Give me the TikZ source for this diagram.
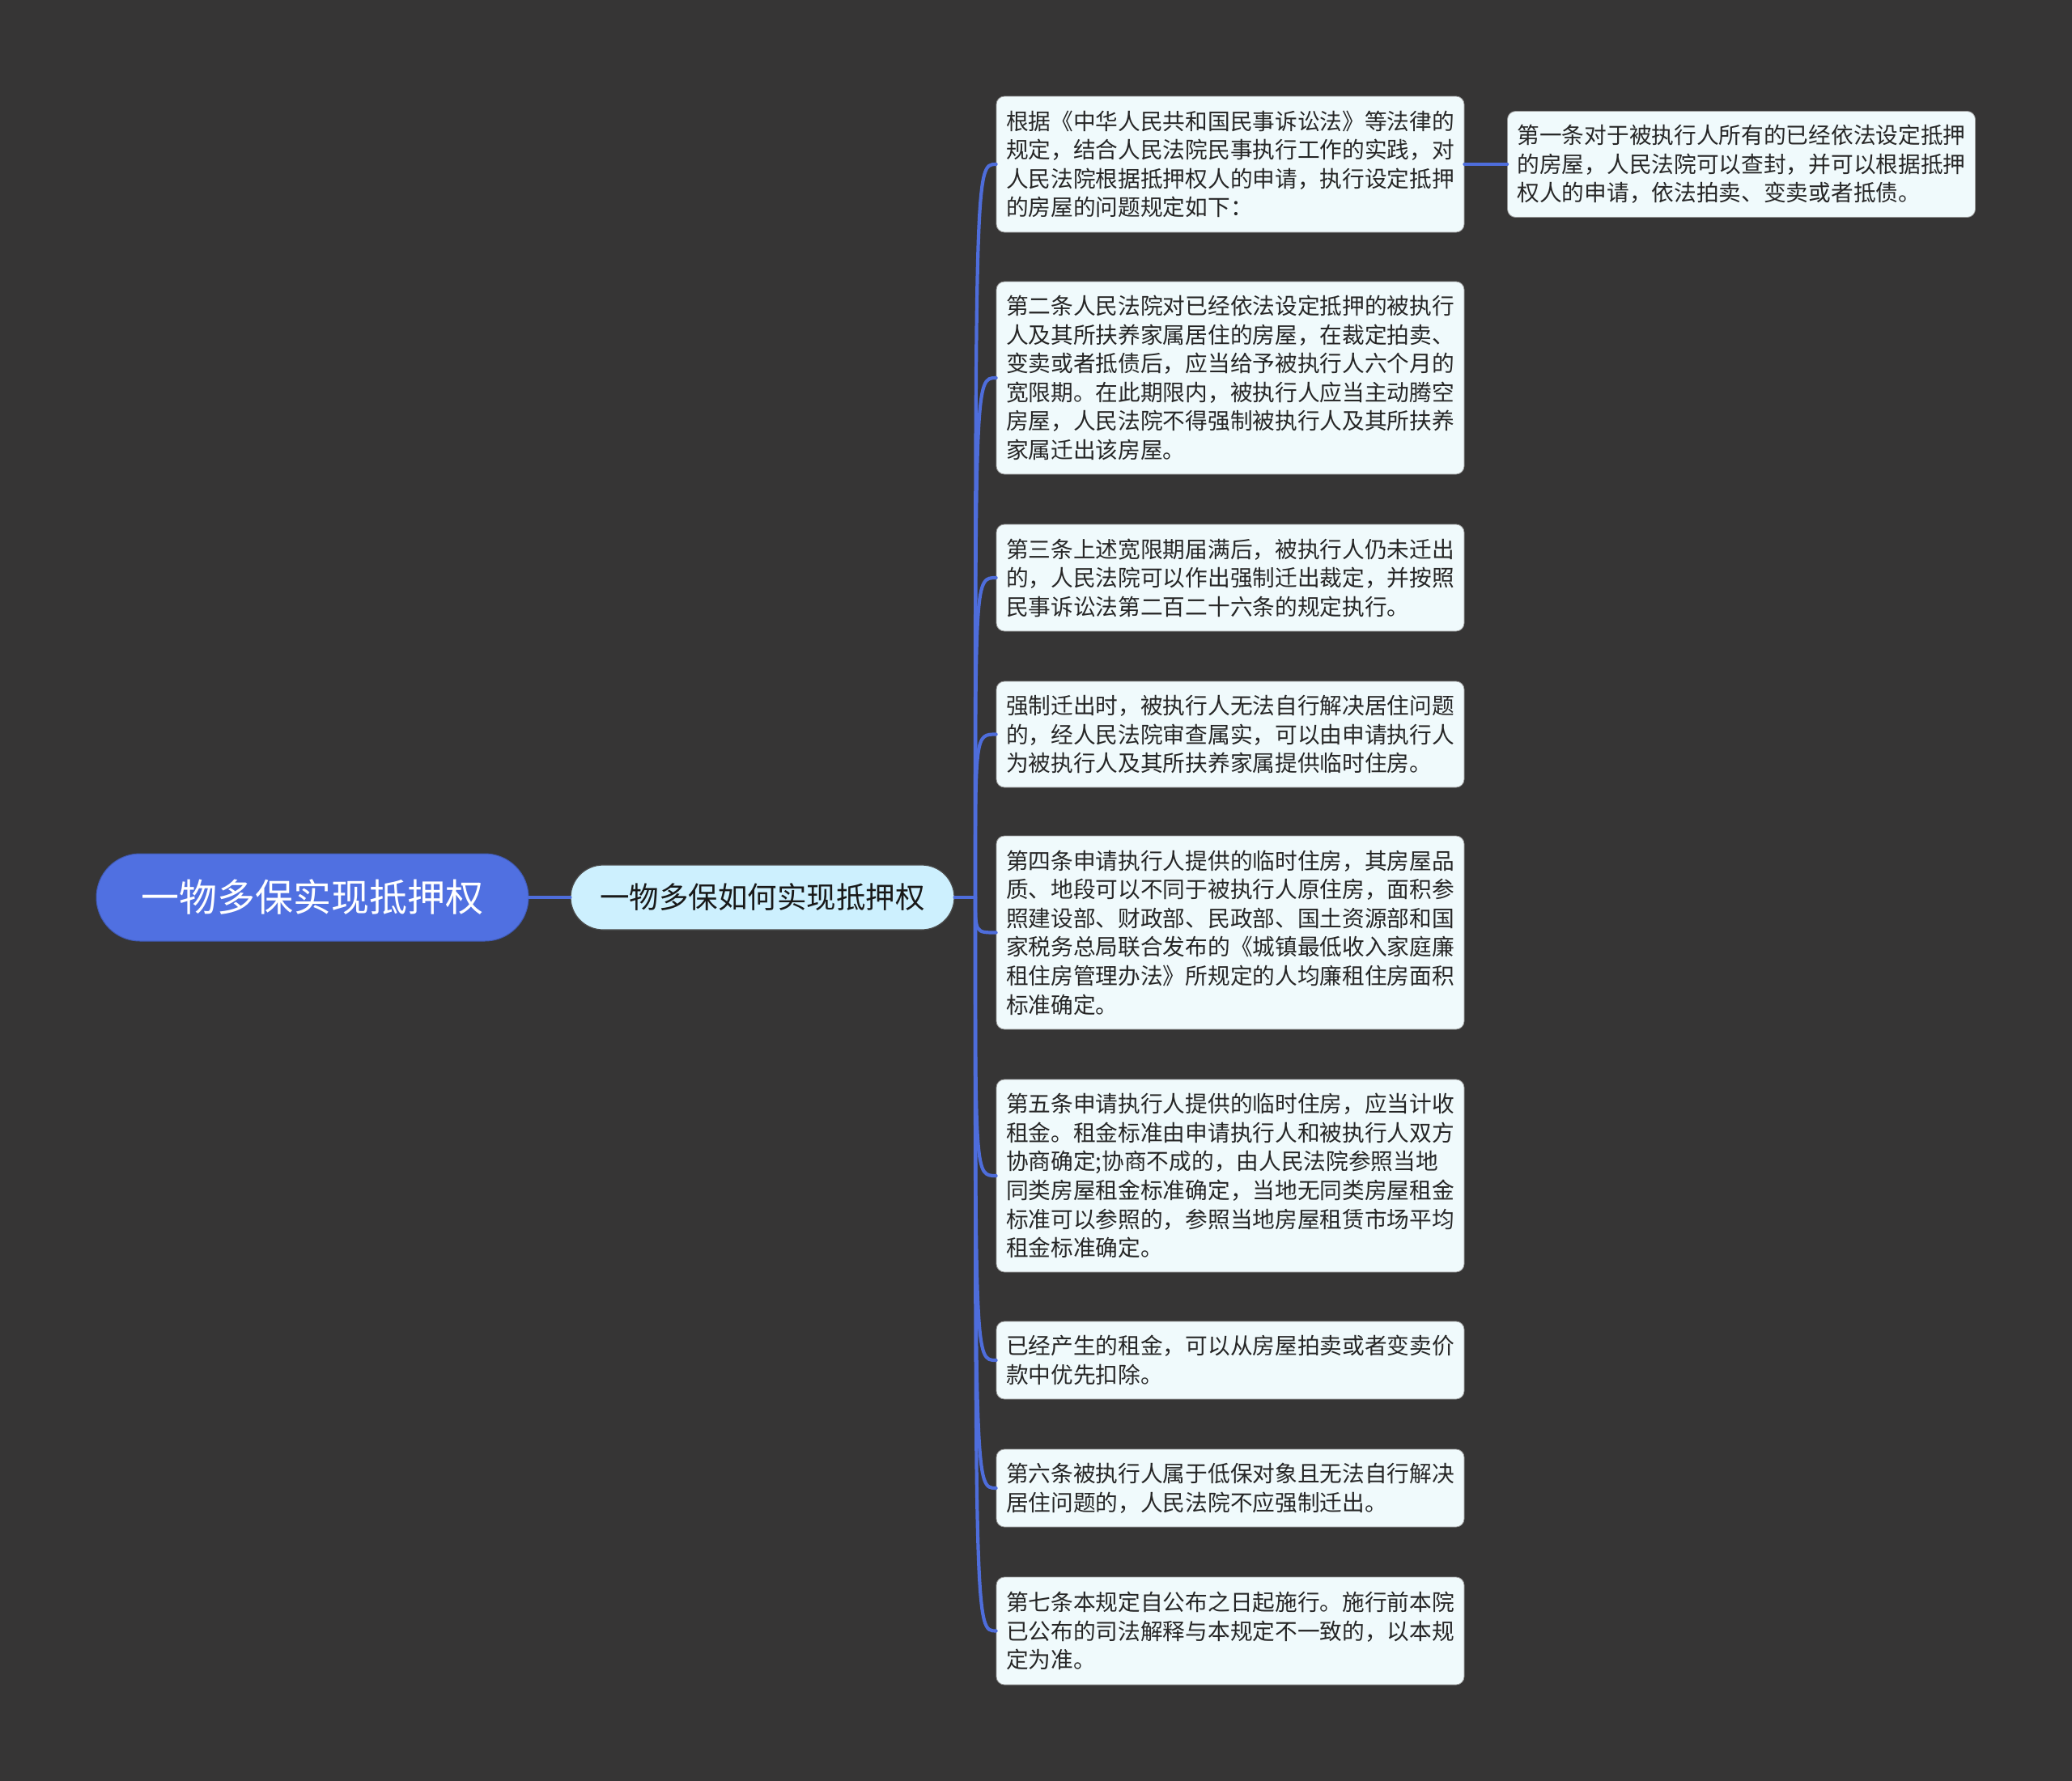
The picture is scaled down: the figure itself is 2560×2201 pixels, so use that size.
\documentclass[tikz,border=0pt]{standalone}
\usepackage{fontspec}
\setmainfont{Noto Sans CJK SC}
\definecolor{bg}{HTML}{363535}
\definecolor{rootfill}{HTML}{5070E1}
\definecolor{connc}{HTML}{4E6DDB}
\definecolor{lvfill}{HTML}{CDF0FE}
\definecolor{leaffill}{HTML}{F0FAFC}
\definecolor{leaftext}{HTML}{262626}
\tikzset{
  rootnode/.style={fill=rootfill, draw=rootfill!80!black, line width=1pt, rounded corners=54pt,
    minimum width=534pt, minimum height=108pt, inner sep=0pt, text=white,
    font=\fontsize{47}{56}\selectfont},
  lvnode/.style={fill=lvfill, draw=black!70, line width=1.2pt, rounded corners=40pt,
    minimum width=474pt, minimum height=80pt, inner sep=0pt, text=black!90,
    font=\fontsize{36.5}{44}\selectfont},
  leaf/.style={fill=leaffill, draw=black!40, line width=0.8pt, rounded corners=10pt,
    text width=562pt, inner xsep=8pt, inner ysep=0pt, align=left, text=leaftext,
    font=\fontsize{27.7}{35.6}\selectfont},
  conn/.style={draw=connc, line width=4.2pt, line cap=round}
}
\begin{document}
\begin{tikzpicture}[x=1pt,y=-1pt]
\fill[bg] (0,0) rectangle (2560,2201);
\useasboundingbox (0,0) rectangle (2560,2201);

\node[rootnode] (root) at (386,1109) {一物多保实现抵押权};
\node[lvnode] (lv) at (942,1109) {一物多保如何实现抵押权};
\coordinate (hub) at (1205,1109);

\node[leaf, minimum height=168pt] (l1) at (1520,203) {\hspace*{4pt}根据《中华人民共和国民事诉讼法》等法律的\\\hspace*{4pt}规定，结合人民法院民事执行工作的实践，对\\\hspace*{4pt}人民法院根据抵押权人的申请，执行设定抵押\\\hspace*{4pt}的房屋的问题规定如下：};
\node[leaf, minimum height=131pt] (r1) at (2151.5,203) {\hspace*{4pt}第一条对于被执行人所有的已经依法设定抵押\\\hspace*{4pt}的房屋，人民法院可以查封，并可以根据抵押\\\hspace*{4pt}权人的申请，依法拍卖、变卖或者抵债。};
\node[leaf, minimum height=238pt] (l2) at (1520,467) {\hspace*{4pt}第二条人民法院对已经依法设定抵押的被执行\\\hspace*{4pt}人及其所扶养家属居住的房屋，在裁定拍卖、\\\hspace*{4pt}变卖或者抵债后，应当给予被执行人六个月的\\\hspace*{4pt}宽限期。在此期限内，被执行人应当主动腾空\\\hspace*{4pt}房屋，人民法院不得强制被执行人及其所扶养\\\hspace*{4pt}家属迁出该房屋。};
\node[leaf, minimum height=132pt] (l3) at (1520,714) {\hspace*{4pt}第三条上述宽限期届满后，被执行人仍未迁出\\\hspace*{4pt}的，人民法院可以作出强制迁出裁定，并按照\\\hspace*{4pt}民事诉讼法第二百二十六条的规定执行。};
\node[leaf, minimum height=131pt] (l4) at (1520,907.5) {\hspace*{4pt}强制迁出时，被执行人无法自行解决居住问题\\\hspace*{4pt}的，经人民法院审查属实，可以由申请执行人\\\hspace*{4pt}为被执行人及其所扶养家属提供临时住房。};
\node[leaf, minimum height=239pt] (l5) at (1520,1152.5) {\hspace*{4pt}第四条申请执行人提供的临时住房，其房屋品\\\hspace*{4pt}质、地段可以不同于被执行人原住房，面积参\\\hspace*{4pt}照建设部、财政部、民政部、国土资源部和国\\\hspace*{4pt}家税务总局联合发布的《城镇最低收入家庭廉\\\hspace*{4pt}租住房管理办法》所规定的人均廉租住房面积\\\hspace*{4pt}标准确定。};
\node[leaf, minimum height=238pt] (l6) at (1520,1453) {\hspace*{4pt}第五条申请执行人提供的临时住房，应当计收\\\hspace*{4pt}租金。租金标准由申请执行人和被执行人双方\\\hspace*{4pt}协商确定;协商不成的，由人民法院参照当地\\\hspace*{4pt}同类房屋租金标准确定，当地无同类房屋租金\\\hspace*{4pt}标准可以参照的，参照当地房屋租赁市场平均\\\hspace*{4pt}租金标准确定。};
\node[leaf, minimum height=96pt] (l7) at (1520,1681) {\hspace*{4pt}已经产生的租金，可以从房屋拍卖或者变卖价\\\hspace*{4pt}款中优先扣除。};
\node[leaf, minimum height=96pt] (l8) at (1520,1839) {\hspace*{4pt}第六条被执行人属于低保对象且无法自行解决\\\hspace*{4pt}居住问题的，人民法院不应强制迁出。};
\node[leaf, minimum height=133pt] (l9) at (1520,2015.5) {\hspace*{4pt}第七条本规定自公布之日起施行。施行前本院\\\hspace*{4pt}已公布的司法解释与本规定不一致的，以本规\\\hspace*{4pt}定为准。};

\draw[conn] (root.east) -- (lv.west);
\draw[conn] (lv.east) -- (hub);
\foreach \n in {l1,l2,l3,l4,l5,l6,l7,l8,l9}{
  \draw[conn] (hub) .. controls (hub |- \n.west) .. (\n.west);
}
\draw[conn] (l1.east) -- (r1.west);
\end{tikzpicture}
\end{document}
